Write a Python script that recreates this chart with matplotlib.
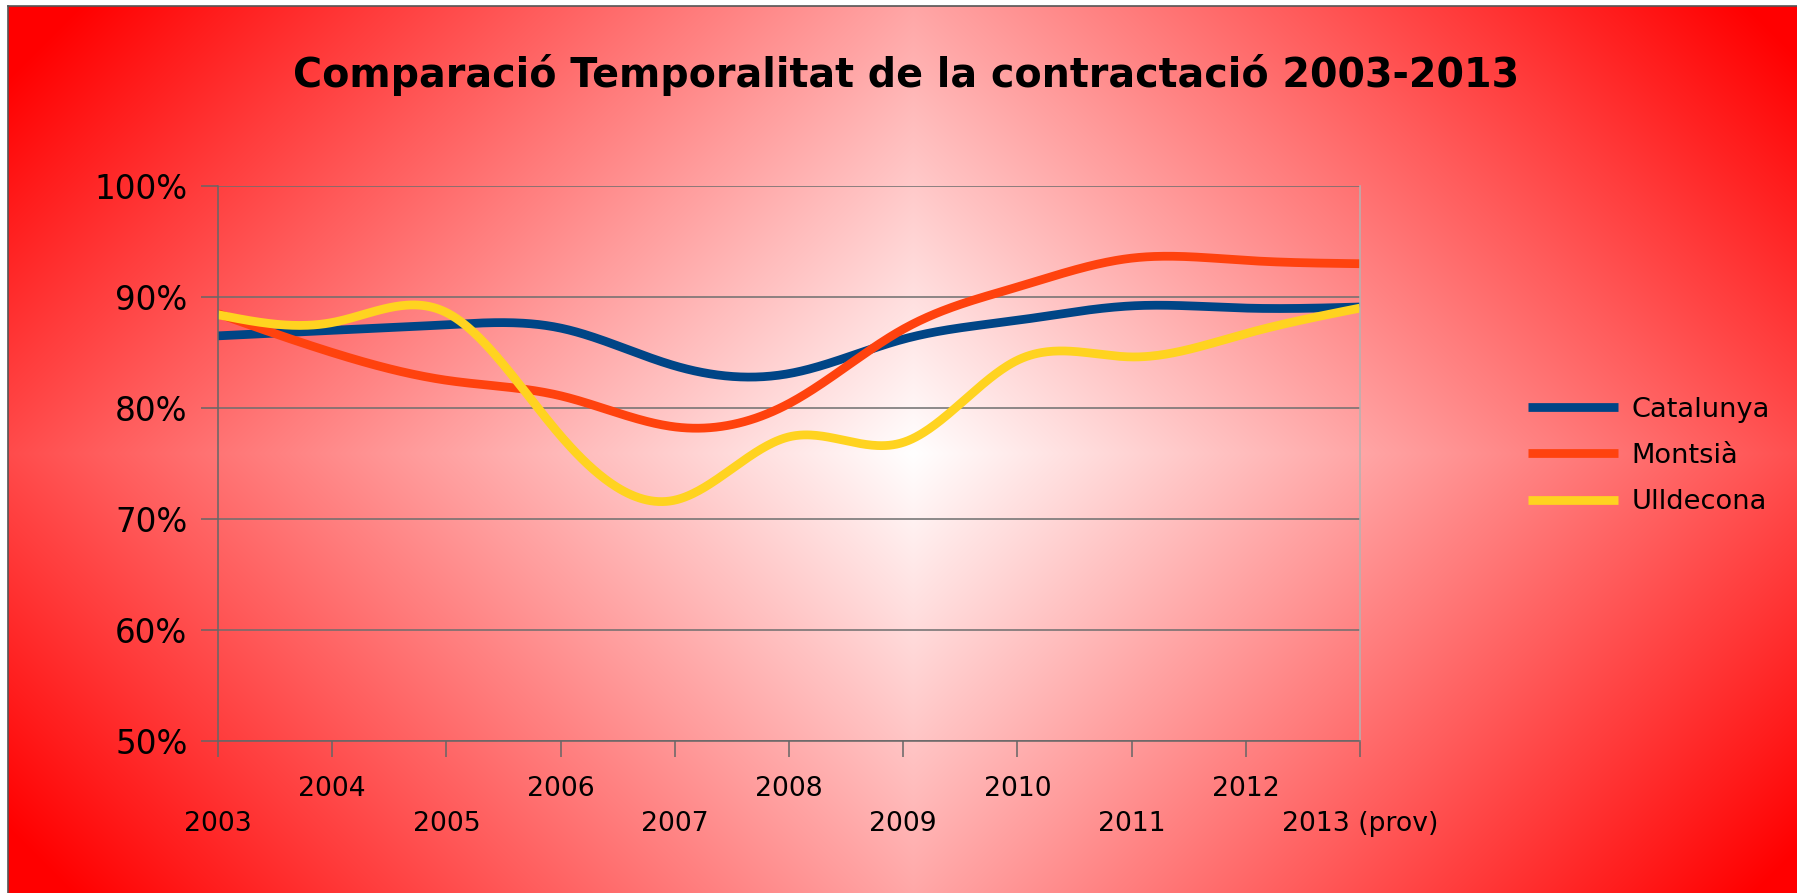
import numpy as np
import matplotlib
matplotlib.use("Agg")
import matplotlib.pyplot as plt

plt.rcParams['font.family'] = ['DejaVu Sans']

# dades (percentatge de contractes temporals)
anys = ['2003', '2004', '2005', '2006', '2007', '2008', '2009', '2010', '2011', '2012', '2013 (prov)']
catalunya = [86.5, 87.0, 87.5, 87.2, 83.8, 83.1, 86.2, 87.9, 89.2, 89.0, 89.1]
montsia = [88.5, 85.0, 82.5, 81.1, 78.3, 80.4, 87.1, 90.9, 93.5, 93.3, 93.0]
ulldecona = [88.4, 87.7, 88.6, 77.5, 71.7, 77.4, 76.9, 84.3, 84.6, 86.7, 89.0]

series = [('Catalunya', catalunya, '#004586'),
          ('Montsià', montsia, '#ff420e'),
          ('Ulldecona', ulldecona, '#ffd320')]


def spline_natural(x, y, xs):
    # spline cubica natural (com la "corba suau" del full de calcul)
    x = np.asarray(x, float)
    y = np.asarray(y, float)
    n = len(x)
    h = np.diff(x)
    A = np.zeros((n, n))
    r = np.zeros(n)
    A[0, 0] = A[-1, -1] = 1
    for i in range(1, n - 1):
        A[i, i - 1] = h[i - 1]
        A[i, i] = 2 * (h[i - 1] + h[i])
        A[i, i + 1] = h[i]
        r[i] = 6 * ((y[i + 1] - y[i]) / h[i] - (y[i] - y[i - 1]) / h[i - 1])
    M = np.linalg.solve(A, r)
    k = np.clip(np.searchsorted(x, xs) - 1, 0, n - 2)
    dx = xs - x[k]
    hk = h[k]
    a = (M[k + 1] - M[k]) / (6 * hk)
    b = M[k] / 2
    c = (y[k + 1] - y[k]) / hk - hk * (2 * M[k] + M[k + 1]) / 6
    return y[k] + c * dx + b * dx ** 2 + a * dx ** 3


W, H = 1797, 893
fig = plt.figure(figsize=(W / 100, H / 100), dpi=100)

# fons amb degradat (blanc al centre, vermell a les vores)
bg = fig.add_axes([8 / W, 0, 1 - 8 / W, 1 - 6 / H])
xx, yy = np.meshgrid(np.arange(8, W), np.arange(6, H))
d = np.abs(xx - 913) + np.abs(yy - 453)
t = np.clip(d / 1283, 0, 1)
img = np.dstack([np.ones_like(t), 1 - t, 1 - t])
bg.imshow(img, aspect='auto', extent=[0, 1, 0, 1], interpolation='bilinear')
bg.set_xlim(0, 1)
bg.set_ylim(0, 1)
bg.set_xticks([])
bg.set_yticks([])
for s in ['right', 'bottom']:
    bg.spines[s].set_visible(False)
for s in ['left', 'top']:
    bg.spines[s].set_color('#555555')
    bg.spines[s].set_linewidth(1.2)

ax = fig.add_axes([218 / W, 1 - 741 / H, 1142 / W, 555 / H])
ax.patch.set_alpha(0)

x = np.arange(len(anys))
xs = np.linspace(0, len(anys) - 1, 600)
for nom, vals, col in series:
    ax.plot(xs, spline_natural(x, vals, xs), color=col, lw=6.3, label=nom,
            solid_capstyle='butt')

ax.set_xlim(0, len(anys) - 1)
ax.set_ylim(50, 100)
ax.set_yticks(np.arange(50, 101, 10))
ax.set_yticklabels([f'{v}%' for v in range(50, 101, 10)])
ax.set_xticks(x)
ax.set_xticklabels(anys)
ax.grid(axis='y', color='#6e6e6e', lw=1.1)
ax.set_axisbelow(True)

ax.tick_params(axis='y', length=12, width=1.1, color='#666666', pad=10,
               labelsize=23.5)
ax.tick_params(axis='x', length=11.5, width=1.1, color='#666666',
               labelsize=19.2)
for i, tk in enumerate(ax.xaxis.get_major_ticks()):
    tk.set_pad(39 if i % 2 == 0 else 14)

ax.spines['top'].set_visible(False)
ax.spines['left'].set_color('#666666')
ax.spines['bottom'].set_color('#666666')
ax.spines['left'].set_linewidth(1.1)
ax.spines['bottom'].set_linewidth(1.1)
ax.spines['right'].set_color('#b3b3b3')
ax.spines['right'].set_linewidth(1.1)

fig.text(906 / W, 1 - 75 / H, 'Comparació Temporalitat de la contractació 2003-2013',
         ha='center', va='center', fontsize=28.5, fontweight='bold')

fig.legend(loc='center left', bbox_to_anchor=(1528 / W, 1 - 456 / H),
           frameon=False, fontsize=19.6, handlelength=3.3, handletextpad=0.5,
           labelspacing=0.75, borderpad=0, borderaxespad=0)

fig.savefig('out.png', dpi=100)
